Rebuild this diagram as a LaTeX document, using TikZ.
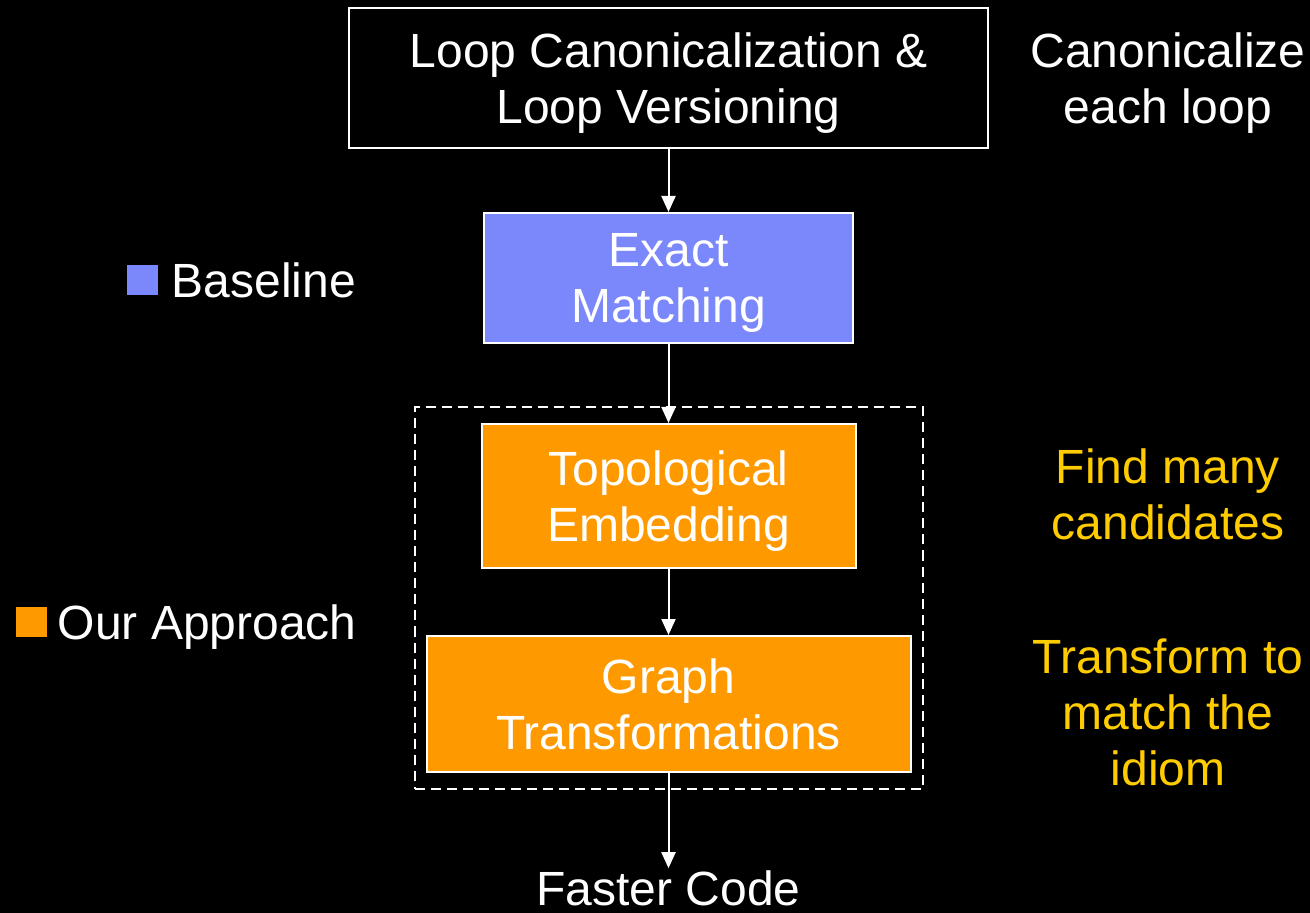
\documentclass[tikz,border=0pt]{standalone}
\usepackage{fontspec}
\setmainfont{Liberation Sans}
\usetikzlibrary{arrows.meta,fit,positioning}
\definecolor{basecol}{HTML}{7B88FB}
\definecolor{ourcol}{HTML}{FF9900}
\definecolor{notecol}{HTML}{FFCC00}

\begin{document}
\begin{tikzpicture}[x=0.5pt,y=-0.5pt]
\tikzstyle{stage}=[draw=white,line width=1pt,text=white,align=center,font=\fontsize{24}{28}\selectfont,text depth=0pt,inner sep=0pt,on grid]
\tikzstyle{note}=[text=white,align=center,font=\fontsize{24}{28}\selectfont,text depth=0pt,inner sep=1pt]
\tikzstyle{key}=[minimum width=15.5pt,minimum height=15pt,inner sep=0pt]
\tikzstyle{flow}=[white,line width=1pt,-{Triangle[width=7pt,length=8pt,fill=white]}]
\fill[black] (0,0) rectangle (1310,913);
\useasboundingbox (0,0) rectangle (1310,913);
% main flow
\node [stage,fill=black,minimum width=319.5pt,minimum height=70pt] (loop) at (668.5,78) {Loop Canonicalization \&\\Loop Versioning};
\node [stage,fill=basecol,minimum width=184.5pt,minimum height=65pt,below=100pt of loop] (exact) {Exact\\Matching};
\node [stage,fill=ourcol,minimum width=187pt,minimum height=72pt,below=109pt of exact] (topo) {Topological\\Embedding};
\node [stage,fill=ourcol,minimum width=242pt,minimum height=68pt,below=104pt of topo] (graph) {Graph\\Transformations};
\node [note,on grid,below=92pt of graph] (fast) {Faster Code};
\node [draw=white,line width=1pt,dash pattern=on 5pt off 3pt,inner xsep=5.5pt,inner ysep=7.75pt,fit=(topo)(graph)] (ours) {};
\path[flow]
    (loop) edge (exact)
    (exact) edge (topo)
    (topo) edge (graph)
    (graph) edge (fast);
% legend
\node [key,fill=basecol] (basekey) at (142.5,280) {};
\node [note,anchor=west,right=5.5pt of basekey] (basetxt) {Baseline};
\node [key,fill=ourcol] (ourkey) at (31.5,622) {};
\node [note,anchor=west,right=4pt of ourkey] (ourtxt) {Our Approach};
% side notes
\node [note] (canon) at (1168,78) {Canonicalize\\each loop};
\node [note,text=notecol] (find) at (1168,494) {Find many\\candidates};
\node [note,text=notecol] (trans) at (1168,712) {Transform to\\match the\\idiom};
\end{tikzpicture}
\end{document}
